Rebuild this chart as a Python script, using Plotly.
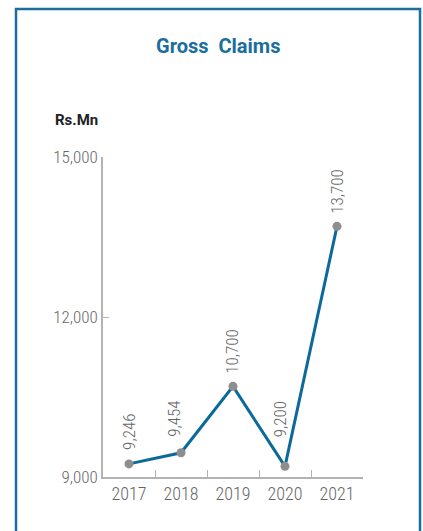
import plotly.graph_objects as go

# Gross claims by year (Rs. Mn)
years = ["2017", "2018", "2019", "2020", "2021"]
claims = [9246, 9454, 10700, 9200, 13700]
claim_labels = ["9,246", "9,454", "10,700", "9,200", "13,700"]
y_ticks = [9000, 12000, 15000]
y_tick_text = ["9,000", "12,000", "15,000"]

# pixel nudges for the rotated value labels (keeps them clear of the line)
label_dx = [0, -7, -1, -5, 0]
label_dy = [12, 14, 10, 27, 10]

W, H = 423, 531
L, R, T, B = 103, 60, 157, 54
PW, PH = W - L - R, H - T - B


def px_x(px):
    return (px - L) / PW


def px_y(py):
    return (H - B - py) / PH


BLUE = "#1b6d9e"
GREY_AXIS = "#b3b3b3"
GREY_TEXT = "#666666"
LABEL_FONT = "Roboto Condensed"

fig = go.Figure()
fig.add_trace(go.Scatter(
    x=years, y=claims, mode="lines+markers",
    line=dict(color="#0b6a9b", width=3),
    marker=dict(color="#8e8e8e", size=9),
    hoverinfo="skip", showlegend=False,
))

annotations = []
for i, (v, t) in enumerate(zip(claims, claim_labels)):
    annotations.append(dict(
        x=i, y=v, xref="x", yref="y", text=t, showarrow=False,
        textangle=-90, xanchor="center", yanchor="bottom",
        xshift=label_dx[i], yshift=label_dy[i],
        font=dict(family=LABEL_FONT, size=17, weight=300, color=GREY_TEXT),
    ))

annotations.append(dict(
    x=px_x(218), y=px_y(46), xref="paper", yref="paper",
    text="<b>Gross  Claims</b>", showarrow=False,
    xanchor="center", yanchor="middle",
    font=dict(family="Roboto", size=20, color=BLUE),
))
annotations.append(dict(
    x=px_x(53), y=px_y(120), xref="paper", yref="paper",
    text="<b>Rs.Mn</b>", showarrow=False,
    xanchor="left", yanchor="middle",
    font=dict(family="Roboto", size=15, color="#222222"),
))

fig.update_layout(
    width=W, height=H,
    margin=dict(l=L, r=R, t=T, b=B),
    paper_bgcolor="white", plot_bgcolor="white",
    annotations=annotations,
    shapes=[dict(
        type="rect", xref="paper", yref="paper",
        x0=px_x(16), x1=px_x(420), y0=px_y(545), y1=px_y(9),
        line=dict(color=BLUE, width=2.5), layer="above",
    )],
    xaxis=dict(
        type="category", range=[-0.5, 4.5],
        showline=True, linecolor=GREY_AXIS, linewidth=1.5,
        showgrid=False, zeroline=False,
        ticks="inside", tickson="boundaries", ticklen=7,
        tickcolor=GREY_AXIS, tickwidth=1,
        tickfont=dict(family=LABEL_FONT, size=18, weight=300, color=GREY_TEXT),
    ),
    yaxis=dict(
        range=[9000, 15000],
        tickvals=y_ticks, ticktext=y_tick_text,
        showline=True, linecolor=GREY_AXIS, linewidth=1.5,
        showgrid=False, zeroline=False,
        ticks="inside", ticklen=6, tickcolor=GREY_AXIS, tickwidth=1,
        tickfont=dict(family=LABEL_FONT, size=17, weight=300, color=GREY_TEXT),
    ),
)

fig.write_html("out.html")
